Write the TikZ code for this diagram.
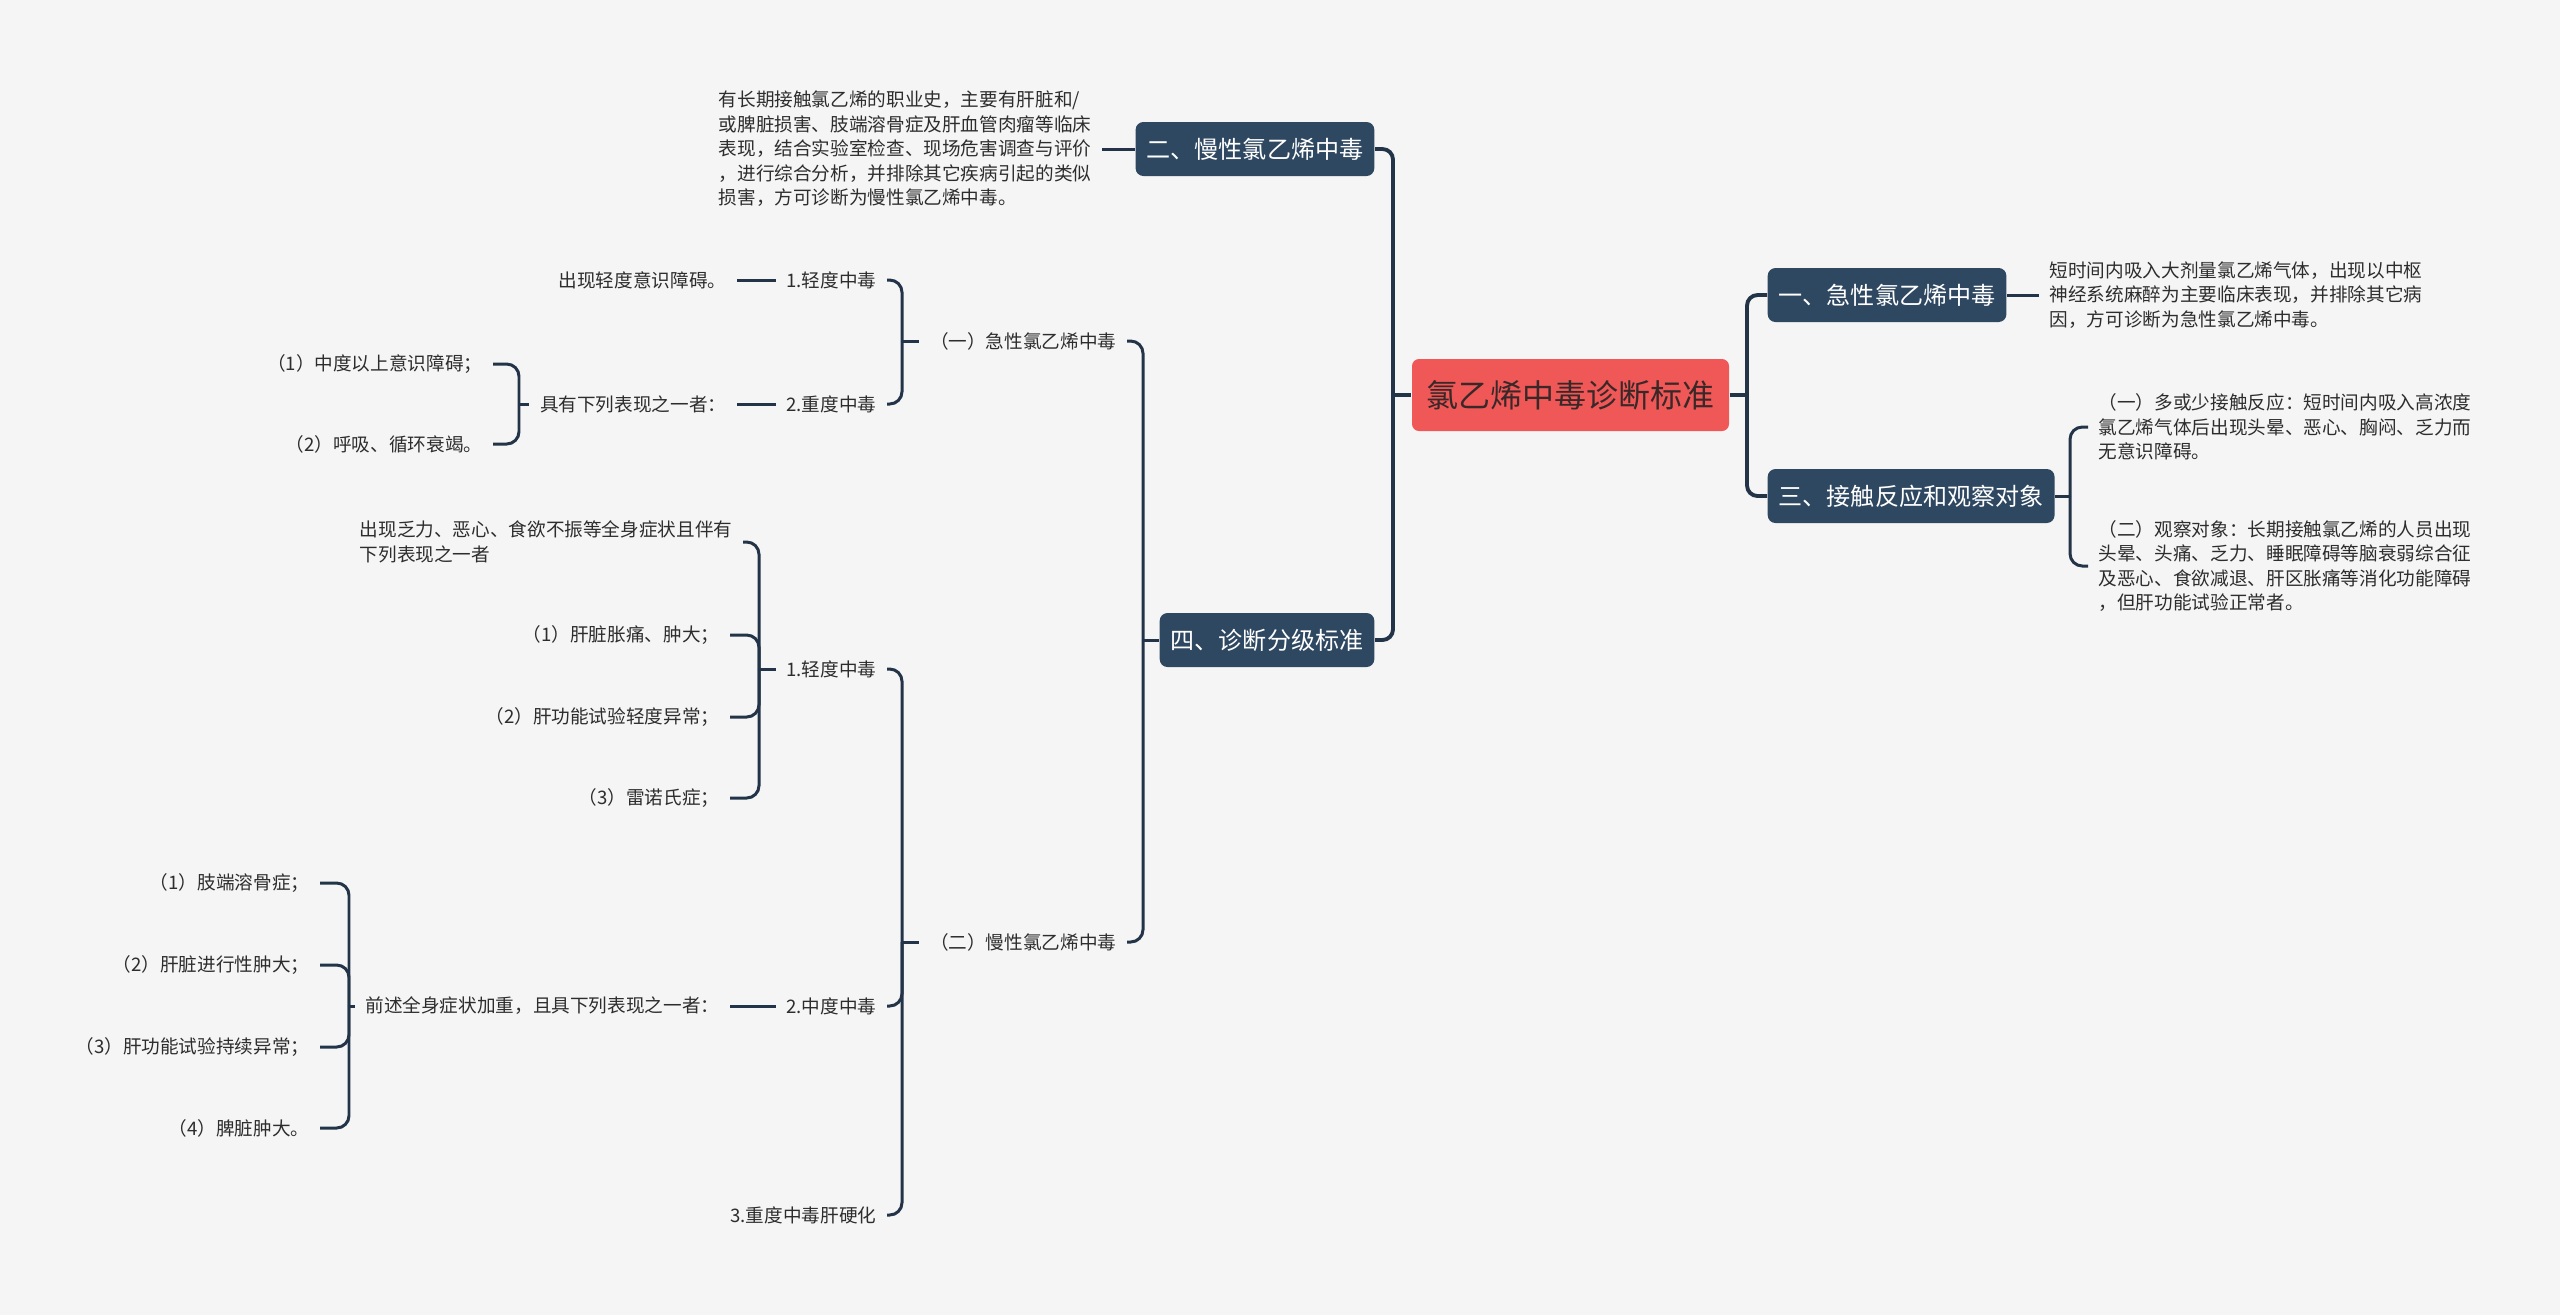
\documentclass[tikz,border=0pt]{standalone}
\usepackage{fontspec}
\setmainfont{Noto Sans CJK SC}
\usepackage{tikz}
\definecolor{bgcolor}{RGB}{245,245,245}
\definecolor{centralcolor}{RGB}{240,88,88}
\definecolor{centraltext}{RGB}{58,40,40}
\definecolor{topiccolor}{RGB}{47,72,98}
\definecolor{linecolor}{RGB}{35,52,72}
\definecolor{notecolor}{RGB}{45,45,45}

\begin{document}
\begin{tikzpicture}[
    centralbox/.style={fill=centralcolor, text=centraltext, rounded corners=2pt, minimum width=3.17cm, minimum height=0.72cm, font=\fontsize{9.1}{11}\selectfont},
    topicbox/.style={fill=topiccolor, text=white, rounded corners=2.2pt, minimum height=0.54cm, inner xsep=0.11cm, font=\fontsize{6.85}{8}\selectfont},
    note/.style={text=notecolor, inner xsep=0.1cm, inner ysep=1pt, align=left, font=\fontsize{5.3}{6.97}\selectfont},
    link/.style={draw=linecolor, line width=0.85pt, rounded corners=3.5pt},
    mainlink/.style={link, line width=1.1pt, rounded corners=3pt}
]
    % Canvas
    \useasboundingbox (0,0) rectangle (25.6,-13.15);
    \fill[bgcolor] (0,0) rectangle (25.6,-13.15);

    % Central topic
    \node[centralbox] (center) at (15.705, -3.95) {氯乙烯中毒诊断标准};
    \coordinate (jleft) at (13.93, -3.95);
    \coordinate (jright) at (17.47, -3.95);

    % Right side topics
    \node[topicbox, anchor=west] (acute) at (17.67, -2.95) {一、急性氯乙烯中毒};
    \node[topicbox, anchor=west] (contact) at (17.67, -4.96) {三、接触反应和观察对象};

    \node[note, anchor=west] (acutetxt) at (20.39, -2.95) {短时间内吸入大剂量氯乙烯气体，出现以中枢\\神经系统麻醉为主要临床表现，并排除其它病\\因，方可诊断为急性氯乙烯中毒。};

    \coordinate (jcontact) at (20.70, -4.96);
    \node[note, anchor=west] (reaction) at (20.88, -4.27) {（一）多或少接触反应：短时间内吸入高浓度\\氯乙烯气体后出现头晕、恶心、胸闷、乏力而\\无意识障碍。};
    \node[note, anchor=west] (observe) at (20.88, -5.66) {（二）观察对象：长期接触氯乙烯的人员出现\\头晕、头痛、乏力、睡眠障碍等脑衰弱综合征\\及恶心、食欲减退、肝区胀痛等消化功能障碍\\，但肝功能试验正常者。};

    % Left side topics
    \node[topicbox, anchor=east] (chronic) at (13.75, -1.49) {二、慢性氯乙烯中毒};
    \node[topicbox, anchor=east] (grading) at (13.75, -6.40) {四、诊断分级标准};

    \node[note, anchor=east] (chronictxt) at (11.02, -1.49) {有长期接触氯乙烯的职业史，主要有肝脏和/\\或脾脏损害、肢端溶骨症及肝血管肉瘤等临床\\表现，结合实验室检查、现场危害调查与评价\\，进行综合分析，并排除其它疾病引起的类似\\损害，方可诊断为慢性氯乙烯中毒。};

    % Grading: acute part
    \coordinate (jgrading) at (11.43, -6.40);
    \node[note, anchor=east] (gacute) at (11.27, -3.41) {（一）急性氯乙烯中毒};
    \node[note, anchor=east] (gchronic) at (11.27, -9.42) {（二）慢性氯乙烯中毒};

    \coordinate (jgacute) at (9.02, -3.41);
    \node[note, anchor=east] (amild) at (8.87, -2.80) {1.轻度中毒};
    \node[note, anchor=east] (asevere) at (8.87, -4.04) {2.重度中毒};
    \node[note, anchor=east] (amildtxt) at (7.37, -2.80) {出现轻度意识障碍。};
    \node[note, anchor=east] (aseveretxt) at (7.37, -4.04) {具有下列表现之一者：};

    \coordinate (jasevere) at (5.19, -4.04);
    \node[note, anchor=east] (as1) at (4.93, -3.64) {（1）中度以上意识障碍；};
    \node[note, anchor=east] (as2) at (4.93, -4.44) {（2）呼吸、循环衰竭。};

    % Grading: chronic part
    \coordinate (jgchronic) at (9.02, -9.42);
    \node[note, anchor=east] (cmild) at (8.87, -6.69) {1.轻度中毒};
    \node[note, anchor=east] (cmid) at (8.87, -10.06) {2.中度中毒};
    \node[note, anchor=east] (csevere) at (8.87, -12.15) {3.重度中毒肝硬化};

    \coordinate (jcmild) at (7.59, -6.69);
    \node[note, anchor=east] (cm0) at (7.43, -5.42) {出现乏力、恶心、食欲不振等全身症状且伴有\\下列表现之一者};
    \node[note, anchor=east] (cm1) at (7.30, -6.35) {（1）肝脏胀痛、肿大；};
    \node[note, anchor=east] (cm2) at (7.30, -7.17) {（2）肝功能试验轻度异常；};
    \node[note, anchor=east] (cm3) at (7.30, -7.98) {（3）雷诺氏症；};

    \node[note, anchor=east] (cmidtxt) at (7.30, -10.06) {前述全身症状加重，且具下列表现之一者：};
    \coordinate (jcmid) at (3.49, -10.06);
    \node[note, anchor=east] (cd1) at (3.20, -8.83) {（1）肢端溶骨症；};
    \node[note, anchor=east] (cd2) at (3.20, -9.65) {（2）肝脏进行性肿大；};
    \node[note, anchor=east] (cd3) at (3.20, -10.47) {（3）肝功能试验持续异常；};
    \node[note, anchor=east] (cd4) at (3.20, -11.28) {（4）脾脏肿大。};

    % Connections from the central topic
    \draw[mainlink] (jright) -- (center.east);
    \draw[mainlink] (jright) |- (acute.west);
    \draw[mainlink] (jright) |- (contact.west);
    \draw[mainlink] (jleft) -- (center.west);
    \draw[mainlink] (chronic.east) -| (jleft);
    \draw[mainlink] (grading.east) -| (jleft);

    % Right side details
    \draw[link] (acute.east) -- (acutetxt.west);
    \draw[link] (jcontact) -- (contact.east);
    \draw[link] (jcontact) |- (reaction.west);
    \draw[link] (jcontact) |- (observe.west);

    % Left side details
    \draw[link] (chronictxt.east) -- (chronic.west);
    \draw[link] (jgrading) -- (grading.west);
    \draw[link] (gacute.east) -| (jgrading);
    \draw[link] (gchronic.east) -| (jgrading);

    \draw[link] (jgacute) -- (gacute.west);
    \draw[link] (amild.east) -| (jgacute);
    \draw[link] (asevere.east) -| (jgacute);
    \draw[link] (amildtxt.east) -- (amild.west);
    \draw[link] (aseveretxt.east) -- (asevere.west);
    \draw[link] (jasevere) -- (aseveretxt.west);
    \draw[link] (as1.east) -| (jasevere);
    \draw[link] (as2.east) -| (jasevere);

    \draw[link] (jgchronic) -- (gchronic.west);
    \draw[link] (cmild.east) -| (jgchronic);
    \draw[link] (cmid.east) -| (jgchronic);
    \draw[link] (csevere.east) -| (jgchronic);

    \draw[link] (jcmild) -- (cmild.west);
    \draw[link] (cm0.east) -| (jcmild);
    \draw[link] (cm1.east) -| (jcmild);
    \draw[link] (cm2.east) -| (jcmild);
    \draw[link] (cm3.east) -| (jcmild);

    \draw[link] (cmidtxt.east) -- (cmid.west);
    \draw[link] (jcmid) -- (cmidtxt.west);
    \foreach \n in {cd1, cd2, cd3, cd4}
        \draw[link] (\n.east) -| (jcmid);

\end{tikzpicture}
\end{document}
